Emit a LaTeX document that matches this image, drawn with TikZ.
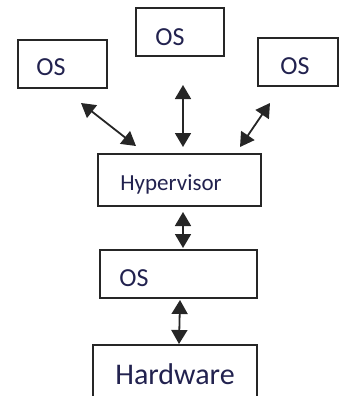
\documentclass[tikz,border=0pt]{standalone}
\usepackage{fontspec}
\setmainfont{Carlito}
\usetikzlibrary{arrows.meta}
\definecolor{txt}{HTML}{22224F}
\definecolor{edge}{HTML}{262626}
\tikzset{
  box/.style={draw=edge, line width=1.6bp, rectangle, inner sep=0pt},
  lbl/.style={text=txt, inner sep=0pt, font=\fontsize{26bp}{30bp}\selectfont},
  hyplbl/.style={text=txt, inner sep=0pt, font=\fontsize{23bp}{27bp}\selectfont},
  biglbl/.style={text=txt, inner sep=0pt, font=\fontsize{30bp}{34bp}\selectfont},
  conn/.style={draw=edge, line width=1.8bp, {Triangle[length=14bp,width=16bp]}-{Triangle[length=14bp,width=16bp]}}
}
\begin{document}
\begin{tikzpicture}[x=1bp,y=-1bp]
\useasboundingbox (0,0) rectangle (339,396);
\clip (0,0) rectangle (339,396);
% boxes
\node[box, minimum width=89bp, minimum height=48bp] (osL) at (62.5,64) {};
\node[box, minimum width=88bp, minimum height=48bp] (osC) at (180,32) {};
\node[box, minimum width=80bp, minimum height=48bp] (osR) at (298,62) {};
\node[box, minimum width=163bp, minimum height=52bp] (hyp) at (179.5,180) {};
\node[box, minimum width=157bp, minimum height=48bp] (osM) at (178.5,274) {};
\node[box, minimum width=164bp, minimum height=60bp] (hw) at (175,375) {};
% labels
\node[lbl] (tL) at (51,67) {OS};
\node[lbl] (tC) at (170,37) {OS};
\node[lbl] (tR) at (295,66) {OS};
\node[hyplbl] (tH) at (171,184) {Hypervisor};
\node[lbl] (tM) at (134,278) {OS};
\node[biglbl] (tW) at (175,374) {Hardware};
% connector end points
\coordinate (aL1) at (81,103);
\coordinate (aL2) at (136,146);
\coordinate (aC1) at (183,85);
\coordinate (aC2) at (183,147);
\coordinate (aR1) at (270,103);
\coordinate (aR2) at (240,147);
\coordinate (aH1) at (183,212);
\coordinate (aH2) at (183,248);
\coordinate (aM1) at (180,300);
\coordinate (aM2) at (179,344);
\draw[conn] (aL1) -- (aL2);
\draw[conn] (aC1) -- (aC2);
\draw[conn] (aR1) -- (aR2);
\draw[conn] (aH1) -- (aH2);
\draw[conn] (aM1) -- (aM2);
\end{tikzpicture}
\end{document}
